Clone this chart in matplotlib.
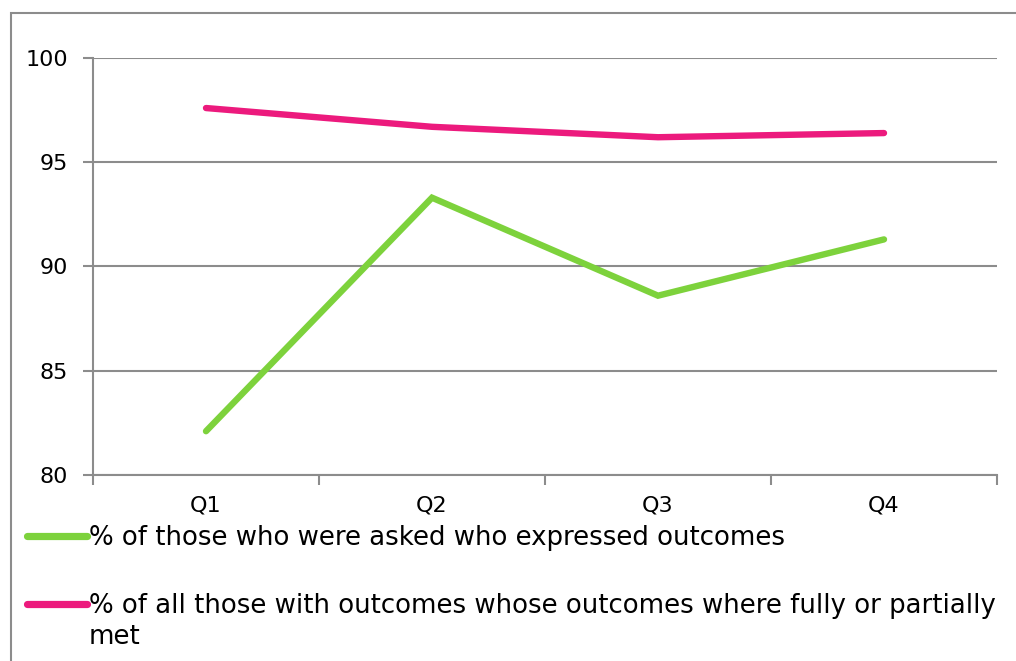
import matplotlib.pyplot as plt
from matplotlib.patches import Rectangle

quarters = ["Q1", "Q2", "Q3", "Q4"]
asked_expressed = [82.1, 93.3, 88.6, 91.3]
outcomes_met = [97.6, 96.7, 96.2, 96.4]

labels = [
    "% of those who were asked who expressed outcomes",
    "% of all those with outcomes whose outcomes where fully or partially",
]
label_tail = "met"  # wrapped second line of the second label
colors = ["#7dd23c", "#ec1a7d"]
grid_col = "#8c8c8c"

W, H = 1016, 661
plt.rcParams["font.family"] = ["DejaVu Sans"]
fig = plt.figure(figsize=(W / 100, H / 100), dpi=100)

# outer frame (runs off the right and bottom edges)
fig.patches.append(Rectangle((11 / W, -0.1), 1.2, 1 - 13 / H + 0.1,
                             transform=fig.transFigure, fill=False,
                             edgecolor=grid_col, lw=1.5))

ax = fig.add_axes([93 / W, 1 - 475 / H, (997 - 93) / W, (475 - 58) / H])
x = range(len(quarters))
for vals, col, lab in zip([asked_expressed, outcomes_met], colors, labels):
    ax.plot(x, vals, color=col, lw=4.6, solid_capstyle="round",
            solid_joinstyle="miter", label=lab, zorder=3)

ax.set_xlim(-0.5, 3.5)
ax.set_ylim(80, 100)
ax.set_yticks([80, 85, 90, 95, 100])
ax.set_xticks(x)
ax.set_xticklabels(quarters)
ax.set_xticks([-0.5, 0.5, 1.5, 2.5, 3.5], minor=True)
ax.tick_params(axis="x", which="major", length=0, pad=15, labelsize=16)
ax.tick_params(axis="x", which="minor", length=7, width=1.5, color=grid_col)
ax.tick_params(axis="y", length=7, width=1.5, color=grid_col, pad=11,
               labelsize=16)
ax.grid(axis="y", color=grid_col, lw=1.5)
ax.set_axisbelow(True)
for s in ["top", "right"]:
    ax.spines[s].set_visible(False)
for s in ["left", "bottom"]:
    ax.spines[s].set_color(grid_col)
    ax.spines[s].set_linewidth(1.5)

leg = fig.legend(loc="upper left", bbox_to_anchor=(27 / W, 1 - 525 / H),
                 frameon=False, fontsize=18.7, handlelength=2.3,
                 handletextpad=0.08, labelspacing=1.62, borderaxespad=0,
                 borderpad=0)
for ln in leg.get_lines():
    ln.set_linewidth(5.2)
    ln.set_solid_capstyle("round")

# wrapped tail of the second legend label, placed under its first line
fig.canvas.draw()
bb = leg.get_texts()[1].get_window_extent()
fig.text(bb.x0, bb.y0 - 5, label_tail, fontsize=18.7, va="top", ha="left",
         transform=None)

fig.savefig("out.png", dpi=100)
